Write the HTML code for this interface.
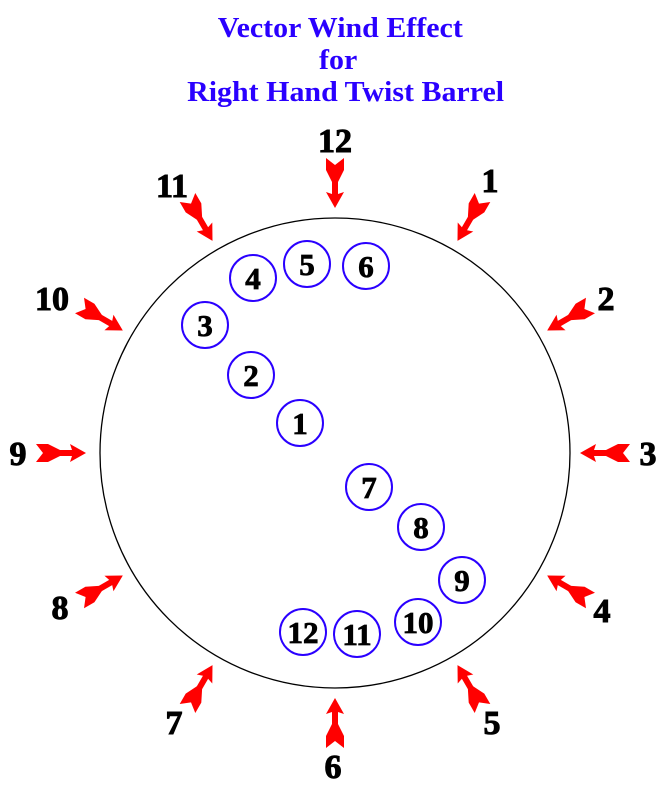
<!DOCTYPE html>
<html><head><meta charset="utf-8"><style>
html,body{margin:0;padding:0;background:#fff;width:668px;height:791px;overflow:hidden}
svg{display:block}
</style></head><body>
<svg width="668" height="791" viewBox="0 0 668 791" xmlns="http://www.w3.org/2000/svg">
<defs>
<g id="arr" fill="#ff0000">
<polygon points="-50,-9 -38,-9 -26,-3 -26,3 -38,9 -50,9 -43,0"/>
<rect x="-28" y="-3" width="16" height="6"/>
<polygon points="0,0 -16,-9 -13,0 -16,9"/>
</g>
</defs>
<g font-family="Liberation Serif, serif" font-weight="bold" fill="#2a00ff" font-size="28" text-anchor="middle" transform="scale(1.07,1)">
<text x="318" y="37">Vector Wind Effect</text>
<text x="316" y="69">for</text>
<text x="323" y="101">Right Hand Twist Barrel</text>
</g>
<circle cx="335" cy="453" r="235" fill="none" stroke="#000" stroke-width="1.3"/>
<g id="arrows">
<use href="#arr" transform="translate(335,453) rotate(-90) translate(-245,0)"/>
<use href="#arr" transform="translate(335,453) rotate(-60) translate(-245,0)"/>
<use href="#arr" transform="translate(335,453) rotate(-30) translate(-245,0)"/>
<use href="#arr" transform="translate(335,453) rotate(0) translate(-249,0)"/>
<use href="#arr" transform="translate(335,453) rotate(30) translate(-245,0)"/>
<use href="#arr" transform="translate(335,453) rotate(60) translate(-245,0)"/>
<use href="#arr" transform="translate(335,453) rotate(90) translate(-245,0)"/>
<use href="#arr" transform="translate(335,453) rotate(120) translate(-245,0)"/>
<use href="#arr" transform="translate(335,453) rotate(150) translate(-245,0)"/>
<use href="#arr" transform="translate(335,453) rotate(180) translate(-245,0)"/>
<use href="#arr" transform="translate(335,453) rotate(210) translate(-245,0)"/>
<use href="#arr" transform="translate(335,453) rotate(240) translate(-245,0)"/>
</g>
<g font-family="Liberation Serif, serif" font-weight="bold" fill="#000" font-size="34" text-anchor="middle" stroke="#000" stroke-width="1">
<text x="335" y="152">12</text>
<text x="490" y="192">1</text>
<text x="606" y="310">2</text>
<text x="648" y="465">3</text>
<text x="602" y="622">4</text>
<text x="492" y="734">5</text>
<text x="333" y="778">6</text>
<text x="174" y="734">7</text>
<text x="60" y="619">8</text>
<text x="18" y="465">9</text>
<text x="52" y="310">10</text>
<text x="172" y="197">11</text>
</g>
<g fill="none" stroke="#2a00ff" stroke-width="2">
<circle cx="307" cy="264" r="23"/><circle cx="366" cy="266" r="23"/>
<circle cx="253" cy="278" r="23"/><circle cx="205" cy="325" r="23"/>
<circle cx="251" cy="375" r="23"/><circle cx="300" cy="423" r="23"/>
<circle cx="369" cy="487" r="23"/><circle cx="421" cy="527" r="23"/>
<circle cx="462" cy="580" r="23"/><circle cx="418" cy="622" r="23"/>
<circle cx="357" cy="634" r="23"/><circle cx="303" cy="632" r="23"/>
</g>
<g font-family="Liberation Serif, serif" font-weight="bold" fill="#000" font-size="31" text-anchor="middle" stroke="#000" stroke-width="0.8">
<text x="307" y="275">5</text><text x="366" y="277">6</text>
<text x="253" y="289">4</text><text x="205" y="336">3</text>
<text x="251" y="386">2</text><text x="300" y="434">1</text>
<text x="369" y="498">7</text><text x="421" y="538">8</text>
<text x="462" y="591">9</text><text x="418" y="633">10</text>
<text x="357" y="645">11</text><text x="303" y="643">12</text>
</g>
</svg>
</body></html>
